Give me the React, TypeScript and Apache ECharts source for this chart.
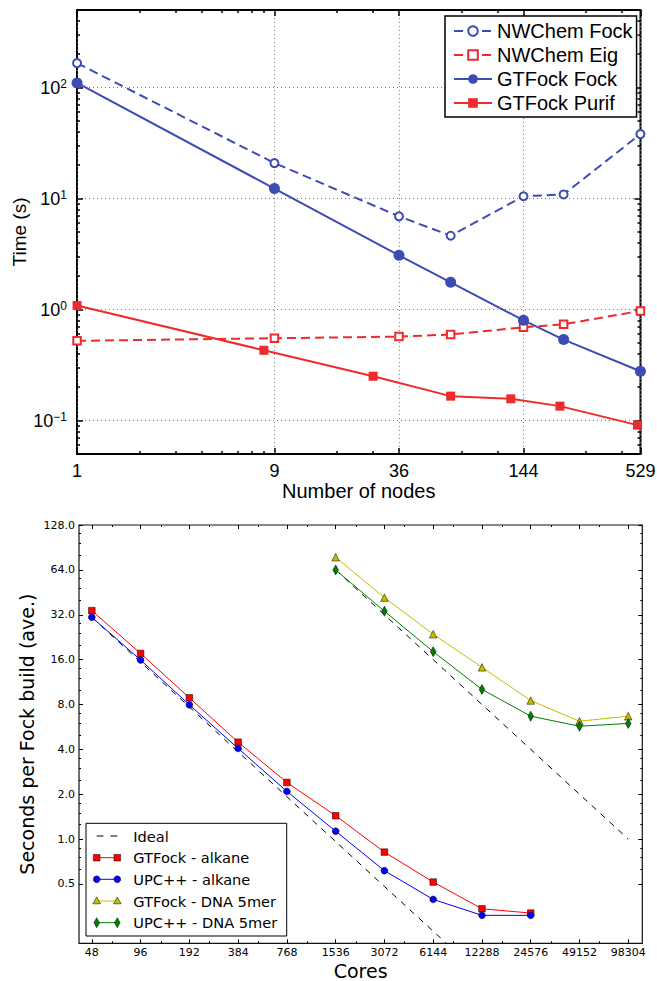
import React, { useEffect, useRef } from 'react';
import * as echarts from 'echarts';

// ---------- Top chart data ----------
const nodesSquare = [1, 9, 36, 64, 144, 225, 529];
const nodesCube = [1, 8, 27, 64, 125, 216, 512];
const nwchemFock = [166, 20.9, 6.92, 4.63, 10.5, 10.9, 38.1];
const nwchemEig = [0.523, 0.552, 0.571, 0.596, 0.693, 0.737, 0.973];
const gtfockFock = [110, 12.3, 3.08, 1.76, 0.8, 0.537, 0.278];
const gtfockPurif = [1.087, 0.43, 0.251, 0.166, 0.157, 0.135, 0.091];

const topXTicks = [1, 9, 36, 144, 529];
const topXMinor = [2, 3, 4, 5, 6, 7, 8, 18, 27, 72, 108, 288, 432];
const topYTicks = [0.1, 1, 10, 100];
const topYMinor = [
  0.06, 0.07, 0.08, 0.09, 0.2, 0.3, 0.4, 0.5, 0.6, 0.7, 0.8, 0.9, 2, 3, 4, 5, 6, 7, 8, 9,
  20, 30, 40, 50, 60, 70, 80, 90, 200, 300, 400,
];

// ---------- Bottom chart data ----------
const coresAll = [48, 96, 192, 384, 768, 1536, 3072, 6144, 12288, 24576, 49152, 98304];
const coresAlkane = [48, 96, 192, 384, 768, 1536, 3072, 6144, 12288, 24576];
const coresDna = [1536, 3072, 6144, 12288, 24576, 49152, 98304];
const idealAlkane = [30.8, 15.4, 7.7, 3.85, 1.925, 0.9625, 0.481, 0.241, 0.12, 0.06];
const idealDna = [64, 32, 16, 8, 4, 2, 1];
const gtfockAlkane = [34.1, 17.6, 8.87, 4.47, 2.4, 1.435, 0.818, 0.515, 0.341, 0.319];
const upcAlkane = [30.8, 15.9, 7.96, 4.06, 2.09, 1.13, 0.614, 0.394, 0.308, 0.308];
const gtfockDna = [77.8, 41.7, 23.7, 14.2, 8.51, 6.18, 6.68];
const upcDna = [64.0, 33.8, 18.1, 10.1, 6.68, 5.72, 5.97];

const botYTicks = [0.5, 1, 2, 4, 8, 16, 32, 64, 128];
const botYMinor = [
  0.625, 0.75, 0.875, 1.25, 1.5, 1.75, 2.5, 3, 3.5, 5, 6, 7, 10, 12, 14, 20, 24, 28, 40, 48, 56,
  80, 96, 112,
];
const botXMinor = [64, 128, 256, 512, 1024, 2048, 4096, 8192, 16384, 32768, 65536];

const TOP_FONT = '"Liberation Sans", Arial, Helvetica, sans-serif';
const BOT_FONT = '"DejaVu Sans", sans-serif';

const BLUE = '#3d4cb5';
const RED = '#ee2a2a';

const pairs = (xs: number[], ys: number[]) => xs.map((x, i) => [x, ys[i]]);

function tickAxis(
  gridIndex: number,
  position: string,
  base: number,
  min: number,
  max: number,
  values: number[],
  length: number,
  width: number,
  color: string
) {
  return {
    gridIndex,
    type: 'log',
    logBase: base,
    min,
    max,
    position,
    axisLine: { show: false, onZero: false },
    axisLabel: { show: false },
    splitLine: { show: false },
    axisTick: {
      show: true,
      inside: true,
      length,
      customValues: values,
      lineStyle: { color, width },
    },
  };
}

// top chart extents
const TX_MIN = 0.9995;
const TX_MAX = 529.5;
const TY_MIN = 0.05;
const TY_MAX = 500;
// bottom chart extents
const BX_MIN = 40;
const BX_MAX = 120000;
const BY_MIN = 0.2;
const BY_MAX = 128.05;

function buildBottomLegend() {
  const els: any[] = [];
  const boxX = 86;
  const boxY = 823.3;
  els.push({
    type: 'rect',
    shape: { x: boxX, y: boxY, width: 200.7, height: 112.7 },
    style: { fill: '#fff', stroke: '#000', lineWidth: 1 },
    z: 100,
  });
  const ys = [836, 857.7, 879.3, 901, 922.7];
  const names = [
    'Ideal',
    'GTFock - alkane',
    'UPC++ - alkane',
    'GTFock - DNA 5mer',
    'UPC++ - DNA 5mer',
  ];
  const colors = ['#000', '#ff0000', '#0000ff', '#bfbf00', '#008000'];
  const x1 = 96.7;
  const x2 = 117.3;
  ys.forEach((cy, i) => {
    els.push({
      type: 'line',
      shape: { x1, y1: cy, x2, y2: cy },
      style: {
        stroke: colors[i],
        lineWidth: 1,
        lineDash: i === 0 ? [6.8, 7] : null,
      },
      z: 101,
    });
    if (i > 0) {
      [x1, x2].forEach((cx) => {
        let el: any;
        const st = { fill: colors[i], stroke: '#000', lineWidth: 0.5 };
        if (i === 1) {
          el = { type: 'rect', shape: { x: cx - 3.3, y: cy - 3.3, width: 6.6, height: 6.6 }, style: st };
        } else if (i === 2) {
          el = { type: 'circle', shape: { cx, cy, r: 3.4 }, style: st };
        } else if (i === 3) {
          el = {
            type: 'polygon',
            shape: { points: [[cx, cy - 4], [cx + 3.8, cy + 2.8], [cx - 3.8, cy + 2.8]] },
            style: st,
          };
        } else {
          el = {
            type: 'polygon',
            shape: { points: [[cx, cy - 5], [cx + 2.8, cy], [cx, cy + 5], [cx - 2.8, cy]] },
            style: st,
          };
        }
        el.z = 102;
        els.push(el);
      });
    }
    els.push({
      type: 'text',
      x: 133.3,
      y: cy,
      style: {
        text: names[i],
        fontSize: 14.6,
        fontFamily: BOT_FONT,
        fill: '#000',
        align: 'left',
        verticalAlign: 'middle',
      },
      z: 102,
    });
  });
  return els;
}

function buildOption(): any {
  const topLabelStyle = { fontSize: 18, fontFamily: TOP_FONT, color: '#000' };
  const botLabelStyle = { fontSize: 11, fontFamily: BOT_FONT, color: '#000' };
  const dotted = { show: true, lineStyle: { color: '#777', width: 1, type: [1, 3] } };

  const xAxis: any[] = [
    {
      gridIndex: 0,
      type: 'log',
      logBase: 10,
      min: TX_MIN,
      max: TX_MAX,
      position: 'bottom',
      axisLine: { show: false, onZero: false },
      axisTick: {
        show: true,
        inside: true,
        length: 6,
        customValues: topXTicks,
        lineStyle: { color: '#000', width: 1.5 },
      },
      axisLabel: {
        show: true,
        customValues: topXTicks,
        margin: 8,
        ...topLabelStyle,
        formatter: (v: number) => String(Math.round(v)),
      },
      splitLine: dotted,
      name: 'Number of nodes',
      nameLocation: 'middle',
      nameGap: 27,
      nameMoveOverlap: false,
      nameTextStyle: { fontSize: 20, fontFamily: TOP_FONT, color: '#000' },
    },
    tickAxis(0, 'bottom', 10, TX_MIN, TX_MAX, topXMinor, 3, 1.5, '#000'),
    tickAxis(0, 'top', 10, TX_MIN, TX_MAX, topXTicks, 6, 1.5, '#000'),
    tickAxis(0, 'top', 10, TX_MIN, TX_MAX, topXMinor, 3, 1.5, '#000'),
    {
      gridIndex: 1,
      type: 'log',
      logBase: 2,
      min: BX_MIN,
      max: BX_MAX,
      position: 'bottom',
      axisLine: { show: false, onZero: false },
      axisTick: {
        show: true,
        inside: true,
        length: 4,
        customValues: coresAll,
        lineStyle: { color: '#000', width: 1 },
      },
      axisLabel: {
        show: true,
        customValues: coresAll,
        margin: 4,
        ...botLabelStyle,
        formatter: (v: number) => String(Math.round(v)),
      },
      splitLine: { show: false },
      name: 'Cores',
      nameLocation: 'middle',
      nameGap: 18,
      nameMoveOverlap: false,
      nameTextStyle: { fontSize: 19, fontFamily: BOT_FONT, color: '#000' },
    },
    tickAxis(1, 'bottom', 2, BX_MIN, BX_MAX, botXMinor, 2, 1, '#000'),
    tickAxis(1, 'top', 2, BX_MIN, BX_MAX, coresAll, 4, 1, '#000'),
    tickAxis(1, 'top', 2, BX_MIN, BX_MAX, botXMinor, 2, 1, '#000'),
  ];

  const yAxis: any[] = [
    {
      gridIndex: 0,
      type: 'log',
      logBase: 10,
      min: TY_MIN,
      max: TY_MAX,
      position: 'left',
      axisLine: { show: false, onZero: false },
      axisTick: {
        show: true,
        inside: true,
        length: 6,
        customValues: topYTicks,
        lineStyle: { color: '#000', width: 1.5 },
      },
      axisLabel: {
        show: true,
        customValues: topYTicks,
        margin: 10,
        formatter: (v: number) => {
          const e = Math.round(Math.log10(v));
          return '{b|10}{s|' + (e < 0 ? '\u2212' + -e : String(e)) + '}';
        },
        rich: {
          b: { fontSize: 18, fontFamily: TOP_FONT, color: '#000', lineHeight: 20 },
          s: { fontSize: 12, fontFamily: TOP_FONT, color: '#000', verticalAlign: 'top', lineHeight: 14 },
        },
      },
      splitLine: dotted,
      name: 'Time (s)',
      nameLocation: 'middle',
      nameGap: 48,
      nameMoveOverlap: false,
      nameTextStyle: { fontSize: 19, fontFamily: TOP_FONT, color: '#000' },
    },
    tickAxis(0, 'left', 10, TY_MIN, TY_MAX, topYMinor, 3, 1.5, '#000'),
    tickAxis(0, 'right', 10, TY_MIN, TY_MAX, topYTicks, 6, 1.5, '#000'),
    tickAxis(0, 'right', 10, TY_MIN, TY_MAX, topYMinor, 3, 1.5, '#000'),
    {
      gridIndex: 1,
      type: 'log',
      logBase: 2,
      min: BY_MIN,
      max: BY_MAX,
      position: 'left',
      axisLine: { show: false, onZero: false },
      axisTick: {
        show: true,
        inside: true,
        length: 4,
        customValues: botYTicks,
        lineStyle: { color: '#000', width: 1 },
      },
      axisLabel: {
        show: true,
        customValues: botYTicks,
        margin: 4,
        ...botLabelStyle,
        formatter: (v: number) => v.toFixed(1),
      },
      splitLine: { show: false },
      name: 'Seconds per Fock build (ave.)',
      nameLocation: 'middle',
      nameGap: 42.5,
      nameMoveOverlap: false,
      nameTextStyle: { fontSize: 19, fontFamily: BOT_FONT, color: '#000' },
    },
    tickAxis(1, 'left', 2, BY_MIN, BY_MAX, botYMinor, 2, 1, '#000'),
    tickAxis(1, 'right', 2, BY_MIN, BY_MAX, botYTicks, 4, 1, '#000'),
    tickAxis(1, 'right', 2, BY_MIN, BY_MAX, botYMinor, 2, 1, '#000'),
  ];

  const topSeries = [
    {
      name: 'NWChem Fock',
      type: 'line',
      xAxisIndex: 0,
      yAxisIndex: 0,
      data: pairs(nodesSquare, nwchemFock),
      symbol: 'emptyCircle',
      symbolSize: 8,
      lineStyle: { color: BLUE, width: 2, type: [9, 5] },
      itemStyle: { color: BLUE, borderColor: BLUE, borderWidth: 2 },
      clip: false,
      z: 3,
    },
    {
      name: 'NWChem Eig',
      type: 'line',
      xAxisIndex: 0,
      yAxisIndex: 0,
      data: pairs(nodesSquare, nwchemEig),
      symbol: 'emptyRect',
      symbolSize: 7.5,
      lineStyle: { color: RED, width: 2, type: [9, 5] },
      itemStyle: { color: RED, borderColor: RED, borderWidth: 2 },
      clip: false,
      z: 3,
    },
    {
      name: 'GTFock Fock',
      type: 'line',
      xAxisIndex: 0,
      yAxisIndex: 0,
      data: pairs(nodesSquare, gtfockFock),
      symbol: 'circle',
      symbolSize: 11,
      lineStyle: { color: BLUE, width: 2 },
      itemStyle: { color: BLUE, borderWidth: 0 },
      clip: false,
      z: 4,
    },
    {
      name: 'GTFock Purif',
      type: 'line',
      xAxisIndex: 0,
      yAxisIndex: 0,
      data: pairs(nodesCube, gtfockPurif),
      symbol: 'rect',
      symbolSize: 9,
      lineStyle: { color: RED, width: 2 },
      itemStyle: { color: RED, borderWidth: 0 },
      clip: false,
      z: 4,
    },
  ];

  const botSeries = [
    {
      name: 'Ideal',
      type: 'line',
      xAxisIndex: 4,
      yAxisIndex: 4,
      data: pairs(coresAlkane, idealAlkane),
      symbol: 'none',
      lineStyle: { color: '#000', width: 1, type: [6, 6] },
      clip: true,
      z: 2,
    },
    {
      name: 'Ideal DNA',
      type: 'line',
      xAxisIndex: 4,
      yAxisIndex: 4,
      data: pairs(coresDna, idealDna),
      symbol: 'none',
      lineStyle: { color: '#000', width: 1, type: [6, 6] },
      clip: true,
      z: 2,
    },
    {
      name: 'GTFock - alkane',
      type: 'line',
      xAxisIndex: 4,
      yAxisIndex: 4,
      data: pairs(coresAlkane, gtfockAlkane),
      symbol: 'rect',
      symbolSize: 6.6,
      lineStyle: { color: '#ff0000', width: 1 },
      itemStyle: { color: '#ff0000', borderColor: '#000', borderWidth: 0.5 },
      clip: false,
      z: 3,
    },
    {
      name: 'UPC++ - alkane',
      type: 'line',
      xAxisIndex: 4,
      yAxisIndex: 4,
      data: pairs(coresAlkane, upcAlkane),
      symbol: 'circle',
      symbolSize: 6.8,
      lineStyle: { color: '#0000ff', width: 1 },
      itemStyle: { color: '#0000ff', borderColor: '#000', borderWidth: 0.5 },
      clip: false,
      z: 3,
    },
    {
      name: 'GTFock - DNA 5mer',
      type: 'line',
      xAxisIndex: 4,
      yAxisIndex: 4,
      data: pairs(coresDna, gtfockDna),
      symbol: 'triangle',
      symbolSize: 7.5,
      lineStyle: { color: '#bfbf00', width: 1 },
      itemStyle: { color: '#bfbf00', borderColor: '#000', borderWidth: 0.5 },
      clip: false,
      z: 3,
    },
    {
      name: 'UPC++ - DNA 5mer',
      type: 'line',
      xAxisIndex: 4,
      yAxisIndex: 4,
      data: pairs(coresDna, upcDna),
      symbol: 'diamond',
      symbolSize: [5.6, 10],
      lineStyle: { color: '#008000', width: 1 },
      itemStyle: { color: '#008000', borderColor: '#000', borderWidth: 0.5 },
      clip: false,
      z: 3,
    },
  ];

  return {
    animation: false,
    backgroundColor: '#fff',
    textStyle: { fontFamily: TOP_FONT },
    grid: [
      {
        left: 77,
        top: 10,
        width: 563.5,
        height: 444,
        show: true,
        borderColor: '#000',
        borderWidth: 2,
        backgroundColor: 'transparent',
        containLabel: false,
        outerBoundsMode: 'none',
      },
      {
        left: 79,
        top: 525,
        width: 563.3,
        height: 418.3,
        show: true,
        borderColor: '#111',
        borderWidth: 1.2,
        backgroundColor: 'transparent',
        containLabel: false,
        outerBoundsMode: 'none',
      },
    ],
    legend: {
      show: true,
      orient: 'vertical',
      left: 445,
      top: 16,
      padding: [5, 4, 4, 8],
      itemGap: 4,
      itemWidth: 38,
      itemHeight: 12,
      backgroundColor: '#fff',
      borderColor: '#000',
      borderWidth: 1.5,
      borderRadius: 0,
      selectedMode: false,
      textStyle: { fontSize: 20, fontFamily: TOP_FONT, color: '#000' },
      data: ['NWChem Fock', 'NWChem Eig', 'GTFock Fock', 'GTFock Purif'],
      z: 10,
    },
    xAxis,
    yAxis,
    series: [...topSeries, ...botSeries],
    graphic: buildBottomLegend(),
  };
}

export default function App() {
  const ref = useRef<HTMLDivElement>(null);
  useEffect(() => {
    if (!ref.current) return;
    const chart = echarts.init(ref.current, null, { renderer: 'svg' });
    chart.setOption(buildOption());
    return () => {
      chart.dispose();
    };
  }, []);
  return (
    <div
      ref={ref}
      style={{ position: 'absolute', left: 0, top: 0, width: 657, height: 981, background: '#fff' }}
    />
  );
}
